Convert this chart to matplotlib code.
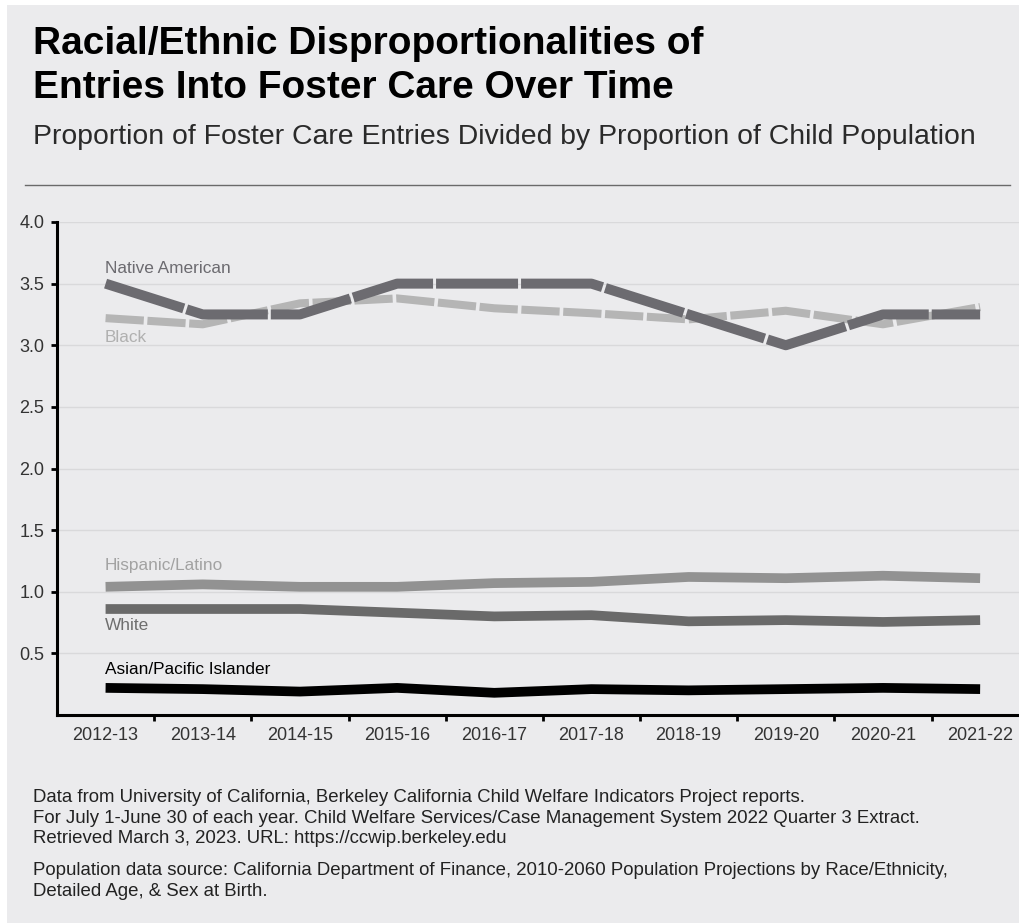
import matplotlib as mpl
import matplotlib.pyplot as plt
from matplotlib.patches import Rectangle
from matplotlib.lines import Line2D

mpl.rcParams["font.family"] = ["Liberation Sans", "DejaVu Sans"]

years = ["2012-13", "2013-14", "2014-15", "2015-16", "2016-17",
         "2017-18", "2018-19", "2019-20", "2020-21", "2021-22"]

native_american = [3.5, 3.25, 3.25, 3.5, 3.5, 3.5, 3.25, 3.0, 3.25, 3.25]
black = [3.22, 3.17, 3.34, 3.38, 3.30, 3.26, 3.21, 3.28, 3.17, 3.31]
hispanic_latino = [1.04, 1.06, 1.04, 1.04, 1.07, 1.08, 1.12, 1.11, 1.13, 1.11]
white = [0.86, 0.86, 0.86, 0.83, 0.80, 0.81, 0.76, 0.77, 0.755, 0.77]
asian_pi = [0.22, 0.21, 0.19, 0.22, 0.18, 0.21, 0.20, 0.21, 0.22, 0.21]

yticks = [0.5, 1.0, 1.5, 2.0, 2.5, 3.0, 3.5, 4.0]

bg = "#ebebed"
W, H = 1019, 923
fig = plt.figure(figsize=(W / 100, H / 100), dpi=100, facecolor="white")
# grey panel with a thin white margin on the top and left
fig.patches.append(Rectangle((7 / W, 0), 1, 1 - 5 / H, transform=fig.transFigure,
                             facecolor=bg, edgecolor="none", zorder=-10))

ax = fig.add_axes([57 / W, 1 - 715 / H, 1 - 57 / W, (715 - 222) / H])
ax.set_facecolor(bg)
x = list(range(len(years)))

ax.plot(x, black, color="#b5b5b5", lw=5.8, dashes=(4.75, 0.45),
        solid_capstyle="butt", dash_capstyle="butt", zorder=3)
ax.plot(x, native_american, color="#6c6b70", lw=7.2, dashes=(8.2, 0.3),
        solid_capstyle="butt", dash_capstyle="butt", zorder=4)
ax.plot(x, hispanic_latino, color="#929292", lw=7, solid_capstyle="butt", zorder=3)
ax.plot(x, white, color="#6a6a6a", lw=7, solid_capstyle="butt", zorder=3)
ax.plot(x, asian_pi, color="black", lw=7, solid_capstyle="butt", zorder=3)

lab = dict(fontsize=12.4, ha="left", va="center")
ax.text(-0.01, 3.62, "Native American", color="#6c6b70", **lab)
ax.text(-0.01, 3.06, "Black", color="#b0b0b0", **lab)
ax.text(-0.01, 1.21, "Hispanic/Latino", color="#a2a2a2", **lab)
ax.text(-0.01, 0.73, "White", color="#6e6e6e", **lab)
ax.text(-0.01, 0.37, "Asian/Pacific Islander", color="black", **lab)

ax.set_xlim(-0.5, 9.4)
ax.set_ylim(0, 4.0)
ax.set_xticks(x)
ax.set_xticklabels(years)
ax.set_xticks([i + 0.5 for i in range(9)], minor=True)
ax.set_yticks(yticks)
ax.set_yticklabels([f"{v:.1f}" for v in yticks])
ax.tick_params(axis="x", which="major", length=0, pad=9, labelsize=13, labelcolor="#333333")
ax.tick_params(axis="x", which="minor", length=4, width=2, color="black")
ax.tick_params(axis="y", length=4, width=2, pad=5, labelsize=13, labelcolor="#333333")
ax.grid(axis="y", color="#d9d9db", lw=1)
ax.set_axisbelow(True)
for s in ["top", "right"]:
    ax.spines[s].set_visible(False)
for s in ["left", "bottom"]:
    ax.spines[s].set_linewidth(2.2)
    ax.spines[s].set_color("black")

fig.text(33 / W, 1 - 26 / H, "Racial/Ethnic Disproportionalities of\nEntries Into Foster Care Over Time",
         fontsize=28, fontweight="bold", color="black", va="top", ha="left", linespacing=1.3)
fig.text(33 / W, 1 - 137 / H, "Proportion of Foster Care Entries Divided by Proportion of Child Population",
         fontsize=20.4, color="#2a2a2a", va="center", ha="left")
fig.add_artist(Line2D([25 / W, 1010 / W], [1 - 185 / H, 1 - 185 / H],
                      transform=fig.transFigure, color="#6a6a6a", lw=1))

source_note = ("Data from University of California, Berkeley California Child Welfare Indicators Project reports.\n"
               "For July 1-June 30 of each year. Child Welfare Services/Case Management System 2022 Quarter 3 Extract.\n"
               "Retrieved March 3, 2023. URL: https://ccwip.berkeley.edu")
population_note = ("Population data source: California Department of Finance, 2010-2060 Population Projections by Race/Ethnicity,\n"
                   "Detailed Age, & Sex at Birth.")
fig.text(33 / W, 1 - 789 / H, source_note, fontsize=13.4, color="#222222", va="top", ha="left", linespacing=1.27)
fig.text(33 / W, 1 - 862 / H, population_note, fontsize=13.4, color="#222222", va="top", ha="left", linespacing=1.27)

fig.savefig("out.png", dpi=100, facecolor=fig.get_facecolor())
